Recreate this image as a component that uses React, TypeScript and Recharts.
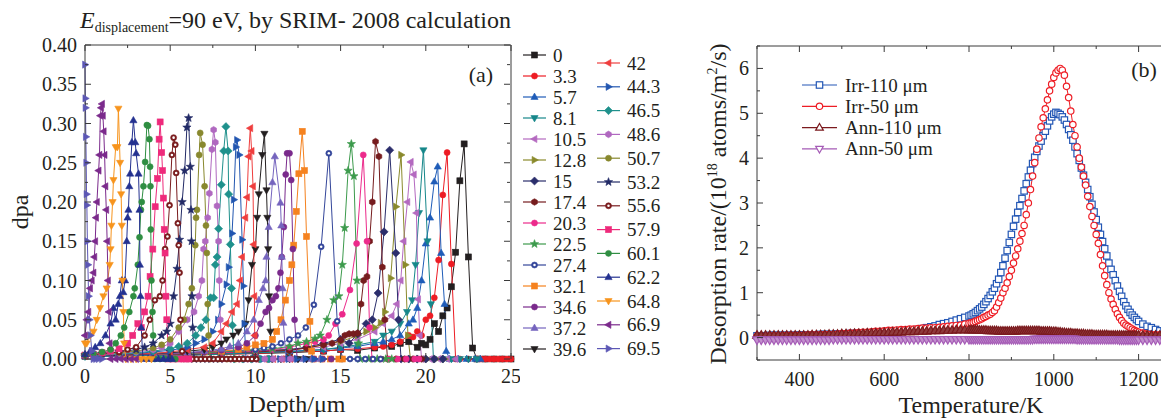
import React from 'react';
import { LineChart, Line, XAxis, YAxis, ReferenceLine } from 'recharts';

const SERIF = '"Liberation Serif", "Times New Roman", serif';
const AX = '#3a3a3a';
const TXT = '#231f20';

// ---------- panel (a): SRIM damage profiles, [depth in µm, dpa] ----------
const s0 = [[0,0.004],[2,0.004],[4,0.005],[6,0.005],[8,0.006],[10,0.007],[12,0.008],[14,0.01],[15,0.012],[16,0.011],[17,0.014],[18,0.016],[18.5,0.02],[19,0.022],[19.5,0.015],[19.75,0.02],[20,0.018],[20.25,0.025],[20.5,0.045],[20.75,0.035],[21,0.055],[21.25,0.065],[21.5,0.092],[21.75,0.136],[22,0.227],[22.25,0.274],[22.5,0.13],[22.75,0.014],[23,0],[23.5,0],[24,0],[24.5,0],[25,0]];
const s3_3 = [[0,0.003],[2,0.004],[4,0.005],[6,0.006],[8,0.006],[10,0.007],[12,0.009],[14,0.01],[15,0.012],[16,0.013],[17,0.015],[17.5,0.016],[18,0.018],[18.5,0.022],[19,0.03],[19.25,0.028],[19.5,0.035],[19.75,0.03],[20,0.05],[20.25,0.055],[20.5,0.078],[20.75,0.126],[21,0.209],[21.25,0.263],[21.5,0.121],[21.75,0],[22,0],[22.5,0],[23,0],[23.25,0],[23.5,0],[23.75,0],[24,0],[24.25,0],[24.5,0],[24.75,0],[25,0]];
const s5_7 = [[0,0.003],[2,0.004],[4,0.005],[6,0.006],[8,0.007],[10,0.008],[12,0.01],[14,0.012],[15,0.014],[16,0.016],[17,0.02],[17.5,0.022],[18,0.025],[18.5,0.03],[19,0.045],[19.25,0.05],[19.5,0.065],[19.75,0.1],[20,0.147],[20.25,0.18],[20.5,0.226],[20.7,0.245],[20.9,0.135],[21.1,0.07],[21.2,0.01],[21.4,0],[21.9,0],[22.4,0],[22.9,0],[23.2,0]];
const s8_1 = [[0,0.003],[2,0.004],[4,0.005],[6,0.005],[8,0.006],[10,0.008],[12,0.009],[14,0.012],[15,0.015],[16,0.018],[17,0.022],[17.5,0.03],[18,0.035],[18.5,0.045],[18.9,0.06],[19.2,0.075],[19.4,0.12],[19.6,0.186],[19.86,0.266],[20.1,0.15],[20.3,0.07],[20.45,0],[21,0],[21.5,0],[22,0],[22.5,0],[23,0]];
const s10_5 = [[0,0.004],[2,0.005],[4,0.006],[6,0.007],[8,0.008],[10,0.01],[12,0.012],[14,0.015],[15,0.02],[16,0.025],[17,0.035],[17.5,0.045],[18,0.055],[18.3,0.07],[18.53,0.1],[18.7,0.15],[18.92,0.2],[19.12,0.251],[19.3,0.235],[19.45,0.186],[19.55,0.076],[19.65,0.03],[19.75,0],[20.25,0],[20.75,0],[21.25,0],[21.75,0]];
const s12_8 = [[0,0.004],[2,0.005],[4,0.006],[6,0.007],[8,0.008],[10,0.01],[12,0.012],[13,0.014],[14,0.018],[15,0.022],[16,0.03],[16.5,0.035],[17,0.04],[17.35,0.046],[17.6,0.06],[17.94,0.103],[18.25,0.194],[18.55,0.26],[18.8,0.12],[18.95,0.03],[19.1,0],[19.6,0],[20.1,0],[20.6,0],[21.1,0]];
const s15 = [[0,0.004],[2,0.005],[4,0.006],[6,0.007],[8,0.008],[10,0.01],[12,0.012],[13,0.015],[14,0.02],[15,0.025],[15.5,0.02],[16,0.032],[16.5,0.045],[16.86,0.05],[17.2,0.084],[17.55,0.162],[17.88,0.266],[18.24,0.135],[18.4,0.05],[18.55,0],[19,0],[19.5,0],[20,0],[20.5,0],[21,0]];
const s17_4 = [[0,0.004],[2,0.005],[4,0.006],[6,0.006],[8,0.008],[10,0.009],[12,0.011],[13,0.014],[14,0.018],[14.5,0.02],[15,0.024],[15.25,0.03],[15.5,0.032],[15.75,0.032],[16,0.033],[16.2,0.07],[16.35,0.1],[16.55,0.105],[16.7,0.15],[16.86,0.2],[17.05,0.277],[17.25,0.258],[17.45,0.117],[17.6,0.05],[17.75,0],[18.25,0],[18.75,0],[19.25,0],[19.75,0]];
const s20_3 = [[0,0.004],[2,0.005],[4,0.006],[6,0.007],[8,0.008],[10,0.01],[11,0.012],[12,0.015],[13,0.02],[13.5,0.022],[14,0.025],[14.3,0.03],[14.7,0.045],[15.1,0.057],[15.55,0.088],[15.94,0.147],[16.33,0.26],[16.55,0.15],[16.7,0.04],[16.85,0],[17.35,0],[17.85,0],[18.35,0],[18.85,0],[19.35,0],[19.6,0]];
const s22_5 = [[0,0.004],[2,0.005],[4,0.006],[6,0.007],[8,0.009],[10,0.011],[11,0.013],[12,0.016],[12.5,0.02],[13,0.022],[13.5,0.026],[13.8,0.03],[14.2,0.05],[14.6,0.075],[14.9,0.08],[15.1,0.12],[15.24,0.167],[15.44,0.24],[15.63,0.274],[15.78,0.233],[15.96,0.1],[16.05,0.02],[16.15,0],[16.65,0],[17.15,0],[17.65,0],[18,0]];
const s27_4 = [[0,0.004],[1,0.005],[2,0.005],[3,0.006],[4,0.006],[5,0.007],[6,0.008],[7,0.009],[8,0.01],[9,0.011],[10,0.012],[10.5,0.014],[11,0.016],[11.5,0.02],[12,0.025],[12.5,0.03],[12.96,0.04],[13.43,0.069],[13.86,0.143],[14.31,0.262],[14.8,0.048],[15.1,0],[15.55,0],[16,0],[16.45,0],[16.9,0],[17.35,0]];
const s32_1 = [[0,0.004],[2,0.005],[4,0.006],[6,0.008],[7,0.009],[8,0.01],[9,0.012],[9.5,0.015],[10,0.018],[10.5,0.02],[11,0.025],[11.25,0.035],[11.5,0.05],[11.76,0.075],[12,0.1],[12.14,0.12],[12.25,0.145],[12.4,0.188],[12.55,0.236],[12.75,0.29],[12.88,0.24],[13,0.156],[13.2,0.048],[13.3,0.01],[13.4,0],[13.9,0],[14.4,0],[14.9,0],[15.1,0]];
const s34_6 = [[0,0.004],[2,0.005],[4,0.006],[6,0.008],[7,0.009],[8,0.011],[9,0.015],[9.5,0.02],[10,0.03],[10.3,0.045],[10.6,0.06],[10.8,0.065],[11,0.075],[11.2,0.08],[11.35,0.09],[11.47,0.11],[11.55,0.13],[11.67,0.168],[11.78,0.235],[11.86,0.262],[12,0.262],[12.1,0.228],[12.2,0.14],[12.3,0.05],[12.45,0],[12.95,0],[13.45,0],[13.95,0],[14.45,0]];
const s37_2 = [[0,0.004],[2,0.005],[4,0.007],[6,0.008],[7,0.01],[8,0.013],[8.5,0.016],[9,0.02],[9.5,0.035],[9.9,0.05],[10.2,0.075],[10.45,0.09],[10.6,0.1],[10.65,0.13],[10.78,0.168],[11,0.225],[11.14,0.258],[11.47,0.199],[11.52,0.17],[11.55,0.13],[11.6,0.09],[11.64,0.046],[11.8,0],[12.3,0],[12.8,0],[13.3,0],[13.8,0]];
const s39_6 = [[0,0.004],[2,0.005],[4,0.007],[5,0.008],[6,0.01],[7,0.012],[7.5,0.015],[8,0.02],[8.3,0.025],[8.7,0.03],[9,0.035],[9.43,0.045],[9.6,0.075],[9.8,0.12],[10,0.14],[10.1,0.18],[10.2,0.21],[10.4,0.26],[10.53,0.287],[10.65,0.215],[10.7,0.18],[10.75,0.14],[10.8,0.08],[10.88,0.035],[10.98,0],[11.5,0],[12,0],[12.5,0],[13,0]];
const s42 = [[0,0.004],[2,0.006],[4,0.007],[5,0.009],[6,0.012],[7,0.015],[7.5,0.02],[8,0.035],[8.3,0.045],[8.63,0.06],[8.92,0.07],[9.1,0.1],[9.22,0.13],[9.41,0.18],[9.51,0.206],[9.6,0.258],[9.7,0.294],[9.78,0.265],[9.86,0.22],[9.9,0.146],[9.94,0.08],[9.96,0.03],[10.05,0],[10.55,0],[11.05,0],[11.55,0],[12.05,0]];
const s44_3 = [[0,0.004],[2,0.006],[3,0.007],[4,0.009],[5,0.011],[6,0.015],[6.5,0.02],[7,0.025],[7.5,0.035],[7.8,0.05],[8,0.07],[8.3,0.095],[8.43,0.117],[8.63,0.16],[8.73,0.203],[8.85,0.27],[8.92,0.279],[9.05,0.26],[9.22,0.152],[9.3,0.093],[9.35,0.045],[9.45,0],[9.95,0],[10.45,0],[10.95,0],[11.45,0],[11.95,0],[12.45,0],[12.95,0],[13.45,0],[13.95,0]];
const s46_5 = [[0,0.004],[2,0.006],[3,0.008],[4,0.01],[5,0.013],[5.5,0.016],[6,0.02],[6.5,0.03],[6.8,0.04],[7.1,0.05],[7.37,0.078],[7.55,0.078],[7.65,0.12],[7.75,0.13],[7.84,0.166],[8,0.222],[8.14,0.265],[8.27,0.296],[8.4,0.265],[8.43,0.21],[8.53,0.146],[8.6,0.09],[8.65,0.043],[8.75,0],[9.25,0],[9.75,0],[10.25,0],[10.75,0]];
const s48_6 = [[0,0.005],[1,0.006],[2,0.007],[3,0.009],[4,0.012],[4.5,0.015],[5,0.02],[5.5,0.035],[6,0.05],[6.4,0.06],[6.67,0.08],[6.86,0.1],[6.96,0.14],[7.06,0.15],[7.2,0.18],[7.3,0.211],[7.45,0.267],[7.55,0.292],[7.65,0.276],[7.75,0.195],[7.84,0.15],[7.88,0.1],[7.94,0.05],[8.05,0],[8.55,0],[9.05,0],[9.55,0],[10.05,0],[10.55,0],[11.05,0],[11.55,0],[12.05,0]];
const s50_7 = [[0,0.005],[1,0.006],[2,0.008],[3,0.01],[4,0.014],[4.5,0.018],[5,0.025],[5.5,0.04],[5.8,0.05],[6.08,0.07],[6.27,0.09],[6.47,0.145],[6.52,0.18],[6.57,0.19],[6.7,0.26],[6.76,0.288],[6.9,0.273],[7.02,0.22],[7.1,0.17],[7.15,0.135],[7.2,0.07],[7.25,0.03],[7.35,0],[7.85,0],[8.35,0],[8.85,0]];
const s53_2 = [[0,0.005],[1,0.007],[2,0.009],[3,0.012],[3.5,0.015],[4,0.02],[4.5,0.03],[4.8,0.035],[5,0.045],[5.2,0.08],[5.4,0.115],[5.55,0.152],[5.7,0.2],[5.85,0.24],[5.98,0.295],[6.08,0.307],[6.18,0.245],[6.22,0.19],[6.25,0.15],[6.28,0.08],[6.32,0.04],[6.4,0],[6.9,0],[7.4,0],[7.9,0]];
const s55_6 = [[0,0.005],[1,0.007],[2,0.009],[2.5,0.012],[3,0.015],[3.5,0.03],[3.8,0.05],[4.1,0.075],[4.4,0.08],[4.55,0.1],[4.7,0.14],[4.84,0.156],[4.96,0.196],[5.1,0.26],[5.2,0.282],[5.3,0.273],[5.35,0.237],[5.45,0.173],[5.5,0.145],[5.55,0.11],[5.6,0.05],[5.7,0.01],[5.8,0],[6.05,0],[6.3,0],[6.55,0],[6.8,0],[7.05,0],[7.3,0],[7.55,0],[7.8,0],[8.05,0],[8.3,0],[8.55,0],[8.8,0],[9.05,0],[9.3,0],[9.55,0],[9.8,0],[10.05,0]];
const s57_9 = [[0,0.005],[0.5,0.006],[1,0.008],[1.5,0.01],[2,0.013],[2.5,0.02],[2.8,0.03],[3.1,0.045],[3.3,0.04],[3.5,0.06],[3.7,0.08],[3.82,0.105],[3.98,0.14],[4.12,0.194],[4.25,0.23],[4.35,0.28],[4.41,0.302],[4.5,0.263],[4.55,0.24],[4.6,0.205],[4.65,0.165],[4.7,0.135],[4.75,0.08],[4.8,0.05],[4.9,0],[5.2,0],[5.5,0],[5.8,0],[6.1,0]];
const s60_1 = [[0,0.005],[0.5,0.007],[1,0.009],[1.5,0.012],[1.8,0.02],[2.1,0.03],[2.3,0.04],[2.6,0.06],[2.84,0.08],[2.92,0.09],[3.1,0.12],[3.2,0.155],[3.28,0.19],[3.33,0.2],[3.43,0.22],[3.53,0.251],[3.63,0.298],[3.7,0.297],[3.78,0.28],[3.82,0.245],[3.84,0.22],[3.86,0.165],[3.9,0.1],[3.96,0.06],[4,0.03],[4.1,0],[4.4,0],[4.7,0],[5,0],[5.3,0]];
const s62_2 = [[0,0.006],[0.3,0.01],[0.6,0.015],[0.9,0.02],[1.2,0.03],[1.5,0.045],[1.67,0.065],[1.8,0.05],[1.95,0.07],[2.05,0.08],[2.16,0.1],[2.25,0.085],[2.35,0.1],[2.45,0.15],[2.5,0.18],[2.55,0.19],[2.6,0.22],[2.65,0.236],[2.75,0.276],[2.84,0.304],[2.95,0.276],[3,0.262],[3.14,0.236],[3.2,0.19],[3.22,0.12],[3.26,0.08],[3.3,0.04],[3.4,0],[3.7,0],[4,0],[4.3,0],[4.6,0],[4.9,0],[5.1,0]];
const s64_8 = [[0,0.02],[0.1,0.02],[0.3,0.03],[0.5,0.035],[0.69,0.05],[0.88,0.065],[1.08,0.08],[1.27,0.09],[1.45,0.12],[1.5,0.14],[1.55,0.17],[1.62,0.2],[1.67,0.228],[1.8,0.27],[1.9,0.27],[1.96,0.319],[2.06,0.25],[2.12,0.21],[2.16,0.17],[2.2,0.1],[2.25,0.06],[2.3,0.02],[2.4,0],[2.7,0],[3,0],[3.3,0],[3.6,0],[3.9,0]];
const s66_9 = [[0,0.03],[0.1,0.05],[0.2,0.06],[0.3,0.09],[0.4,0.1],[0.5,0.11],[0.55,0.13],[0.6,0.15],[0.65,0.18],[0.7,0.2],[0.8,0.24],[0.85,0.26],[0.9,0.31],[0.95,0.32],[1,0.325],[1.05,0.31],[1.1,0.29],[1.15,0.26],[1.2,0.22],[1.25,0.19],[1.3,0.15],[1.35,0.1],[1.4,0.06],[1.45,0.02],[1.5,0],[1.8,0],[2.1,0],[2.4,0],[2.7,0],[3,0]];
const s69_5 = [[0,0.375],[0.02,0.332],[0.03,0.32],[0.05,0.283],[0.07,0.25],[0.09,0.21],[0.11,0.196],[0.14,0.15],[0.17,0.12],[0.21,0.08],[0.26,0.05],[0.32,0.03],[0.4,0.01],[0.5,0],[0.65,0],[0.8,0],[1,0]];

const labelsA = ['0','3.3','5.7','8.1','10.5','12.8','15','17.4','20.3','22.5','27.4','32.1','34.6','37.2','39.6','42','44.3','46.5','48.6','50.7','53.2','55.6','57.9','60.1','62.2','64.8','66.9','69.5'];
const colorsA = ['#231f20','#ed1c24','#1f5cb8','#16878a','#b469c0','#8a8a2c','#2b2e6c','#761c1e','#ec2a8b','#3c9a4c','#34469a','#f5821f','#7a2a8c','#7564be','#231f20','#ef3e3e','#2256b0','#1f918c','#b068c0','#88882e','#222a66','#7a1c1e','#ee2a7b','#2f8e42','#243190','#f7941d','#7b2a8c','#5c57b5'];
const shapesA = ['square','circle','up','down','left','right','diamond','hexagon','circle','star','ring','square','circle','up','down','left','right','diamond','hexagon','circle','star','ring','square','circle','up','down','left','right'];
const profilesA = [s0,s3_3,s5_7,s8_1,s10_5,s12_8,s15,s17_4,s20_3,s22_5,s27_4,s32_1,s34_6,s37_2,s39_6,s42,s44_3,s46_5,s48_6,s50_7,s53_2,s55_6,s57_9,s60_1,s62_2,s64_8,s66_9,s69_5];
const xTicksA = [0,2.5,5,7.5,10,12.5,15,17.5,20,22.5,25];
const yTicksA = [0,0.025,0.05,0.075,0.1,0.125,0.15,0.175,0.2,0.225,0.25,0.275,0.3,0.325,0.35,0.375,0.4];

// ---------- panel (b): desorption spectra ----------
const tempK = [
  300,310,320,330,340,350,360,370,380,390,400,410,420,430,440,450,460,470,480,490,
  500,510,520,530,540,550,560,570,580,590,600,610,620,630,640,650,660,670,680,690,
  700,710,720,730,740,750,760,770,780,790,800,
  805,810,815,820,825,830,835,840,845,850,855,860,865,870,875,880,885,890,895,900,
  905,910,915,920,925,930,935,940,945,950,955,960,965,970,975,980,985,990,995,1000,
  1005,1010,1015,1020,1025,1030,1035,1040,1045,1050,1055,1060,1065,1070,1075,1080,1085,1090,1095,1100,
  1105,1110,1115,1120,1125,1130,1135,1140,1145,1150,1155,1160,1165,1170,1175,1180,1185,1190,1195,1200,
  1210,1220,1230,1240,1250,1260,
];
const irr110 = [
  0.04,0.04,0.04,0.05,0.05,0.05,0.05,0.05,0.05,0.05,0.06,0.06,0.06,0.06,0.06,0.07,0.07,0.07,0.07,0.08,
  0.08,0.08,0.09,0.09,0.09,0.1,0.1,0.1,0.11,0.11,0.12,0.12,0.13,0.13,0.14,0.15,0.16,0.17,0.18,0.2,
  0.22,0.24,0.26,0.29,0.31,0.33,0.36,0.39,0.42,0.45,0.48,
  0.5,0.53,0.56,0.6,0.64,0.68,0.74,0.8,0.87,0.94,1.02,1.1,1.2,1.3,1.45,1.6,1.77,1.94,2.12,2.3,
  2.48,2.64,2.79,2.94,3.1,3.27,3.43,3.58,3.73,3.88,4.02,4.15,4.27,4.38,4.5,4.6,4.72,4.83,4.92,4.98,
  5.02,5.0,4.97,4.92,4.85,4.75,4.64,4.52,4.4,4.25,4.1,3.95,3.78,3.62,3.46,3.3,3.14,2.97,2.8,2.63,
  2.46,2.3,2.14,1.98,1.82,1.66,1.52,1.4,1.27,1.15,1.03,0.92,0.8,0.71,0.63,0.56,0.5,0.45,0.4,0.36,
  0.3,0.25,0.22,0.18,0.15,0.13,
];
const irr50 = [
  0.03,0.03,0.03,0.04,0.04,0.04,0.04,0.05,0.05,0.05,0.05,0.05,0.06,0.06,0.06,0.06,0.07,0.07,0.07,0.08,
  0.09,0.09,0.1,0.1,0.11,0.12,0.12,0.13,0.14,0.14,0.15,0.16,0.16,0.17,0.18,0.18,0.19,0.19,0.2,0.21,
  0.21,0.22,0.22,0.23,0.24,0.25,0.26,0.27,0.28,0.3,0.32,
  0.33,0.34,0.36,0.38,0.4,0.42,0.45,0.47,0.5,0.52,0.56,0.6,0.68,0.78,0.88,1.0,1.1,1.22,1.36,1.5,
  1.66,1.82,1.98,2.15,2.32,2.5,2.74,3.0,3.3,3.6,3.9,4.2,4.45,4.7,4.9,5.1,5.3,5.5,5.65,5.8,
  5.9,5.96,6.0,5.96,5.85,5.6,5.35,5.05,4.75,4.5,4.25,4.0,3.8,3.6,3.4,3.15,2.92,2.7,2.5,2.3,
  2.1,1.85,1.6,1.38,1.18,1.0,0.86,0.74,0.63,0.53,0.45,0.38,0.32,0.28,0.25,0.22,0.19,0.16,0.14,0.12,
  0.1,0.08,0.07,0.06,0.06,0.05,
];
const ann110 = [
  0.05,0.05,0.05,0.05,0.05,0.05,0.05,0.05,0.05,0.05,0.05,0.05,0.05,0.06,0.06,0.06,0.06,0.07,0.07,0.07,
  0.08,0.08,0.08,0.09,0.09,0.09,0.1,0.1,0.1,0.11,0.11,0.11,0.12,0.12,0.12,0.13,0.13,0.13,0.14,0.14,
  0.14,0.15,0.15,0.15,0.16,0.16,0.16,0.17,0.17,0.17,0.17,
  0.17,0.17,0.17,0.17,0.16,0.16,0.16,0.16,0.15,0.15,0.15,0.15,0.15,0.14,0.14,0.14,0.14,0.14,0.14,0.14,
  0.14,0.14,0.15,0.15,0.15,0.15,0.15,0.15,0.15,0.15,0.15,0.15,0.15,0.14,0.14,0.14,0.14,0.14,0.13,0.13,
  0.13,0.12,0.12,0.11,0.11,0.1,0.1,0.1,0.09,0.09,0.09,0.08,0.08,0.08,0.07,0.07,0.07,0.07,0.06,0.06,
  0.06,0.06,0.06,0.06,0.06,0.05,0.05,0.05,0.05,0.05,0.05,0.05,0.05,0.05,0.05,0.05,0.05,0.05,0.05,0.05,
  0.05,0.05,0.05,0.05,0.05,0.05,
];
const ann50 = [
  -0.05,-0.05,-0.05,-0.05,-0.05,-0.05,-0.05,-0.05,-0.05,-0.05,-0.05,-0.05,-0.05,-0.05,-0.05,-0.05,-0.05,-0.05,-0.04,-0.04,
  -0.04,-0.04,-0.04,-0.04,-0.04,-0.04,-0.04,-0.04,-0.04,-0.04,-0.04,-0.04,-0.04,-0.04,-0.04,-0.04,-0.04,-0.04,-0.04,-0.04,
  -0.04,-0.04,-0.04,-0.04,-0.04,-0.04,-0.04,-0.04,-0.04,-0.04,-0.04,
  -0.04,-0.04,-0.04,-0.04,-0.04,-0.04,-0.04,-0.04,-0.04,-0.04,-0.04,-0.04,-0.04,-0.04,-0.04,-0.04,-0.04,-0.04,-0.04,-0.04,
  -0.04,-0.04,-0.04,-0.04,-0.04,-0.04,-0.04,-0.04,-0.04,-0.04,-0.03,-0.03,-0.03,-0.03,-0.03,-0.03,-0.03,-0.03,-0.03,-0.03,
  -0.03,-0.03,-0.03,-0.03,-0.03,-0.03,-0.03,-0.03,-0.03,-0.03,-0.04,-0.04,-0.04,-0.04,-0.04,-0.04,-0.04,-0.04,-0.04,-0.04,
  -0.04,-0.04,-0.04,-0.04,-0.04,-0.04,-0.04,-0.04,-0.04,-0.04,-0.05,-0.05,-0.05,-0.05,-0.05,-0.05,-0.05,-0.05,-0.05,-0.05,
  -0.05,-0.05,-0.05,-0.05,-0.05,-0.05,
];
const keysB = ['irr110','irr50','ann110','ann50'];
const namesB = ['Irr-110 μm','Irr-50 μm','Ann-110 μm','Ann-50 μm'];
const colorsB = ['#2457b5','#ee1d25','#7b1a1e','#a55bb6'];
const fillsB = ['#fff','#fff','#8e3a3c','#c28fcd'];
const shapesB = ['square','circle','up','down'];
const xTicksB = [300,400,500,600,700,800,900,1000,1100,1200];
const yTicksB = [-0.5,0,0.5,1,1.5,2,2.5,3,3.5,4,4.5,5,5.5,6,6.5];

const rowsA = profilesA.map((pts) => pts.map(([x, y]) => ({ x, y })));
const rowsB = tempK.map((t, i) => ({ t, irr110: irr110[i], irr50: irr50[i], ann110: ann110[i], ann50: ann50[i] }));

// plot frames (pixel layout)
const A = { w: 520, h: 419, left: 85, right: 510, top: 45, bottom: 359 };
const B = { x0: 690, w: 500, h: 419, left: 67, right: 490, top: 46, bottom: 360 };

const pts = (cx: number, cy: number, list: number[][]) => list.map(([a, b]) => `${cx + a},${cy + b}`).join(' ');

function Mark({ cx, cy, shape, color, r, fill }: any) {
  if (cx == null || cy == null || !isFinite(cx) || !isFinite(cy)) return null;
  const hollow = fill != null;
  const p = { fill: hollow ? fill : color, stroke: color, strokeWidth: hollow ? 1.2 : 0.6 };
  switch (shape) {
    case 'square':
      return <rect x={cx - r} y={cy - r} width={2 * r} height={2 * r} {...p} />;
    case 'circle':
      return <circle cx={cx} cy={cy} r={r} {...p} />;
    case 'ring':
      return (
        <g>
          <circle cx={cx} cy={cy} r={r} {...p} />
          <circle cx={cx} cy={cy} r={r * 0.42} fill="#fff" />
        </g>
      );
    case 'up':
      return <polygon points={pts(cx, cy, [[0, -1.3 * r], [1.2 * r, 0.8 * r], [-1.2 * r, 0.8 * r]])} {...p} />;
    case 'down':
      return <polygon points={pts(cx, cy, [[0, 1.3 * r], [1.2 * r, -0.8 * r], [-1.2 * r, -0.8 * r]])} {...p} />;
    case 'left':
      return <polygon points={pts(cx, cy, [[-1.3 * r, 0], [0.8 * r, -1.2 * r], [0.8 * r, 1.2 * r]])} {...p} />;
    case 'right':
      return <polygon points={pts(cx, cy, [[1.3 * r, 0], [-0.8 * r, -1.2 * r], [-0.8 * r, 1.2 * r]])} {...p} />;
    case 'diamond':
      return <polygon points={pts(cx, cy, [[0, -1.35 * r], [1.35 * r, 0], [0, 1.35 * r], [-1.35 * r, 0]])} {...p} />;
    case 'hexagon': {
      const h = [0, 1, 2, 3, 4, 5].map((k) => [1.1 * r * Math.cos((Math.PI / 3) * k + Math.PI / 6), 1.1 * r * Math.sin((Math.PI / 3) * k + Math.PI / 6)]);
      return <polygon points={pts(cx, cy, h)} {...p} />;
    }
    case 'star': {
      const s = [0, 1, 2, 3, 4, 5, 6, 7, 8, 9].map((k) => {
        const rr = k % 2 === 0 ? 1.45 * r : 0.6 * r;
        const a = -Math.PI / 2 + (Math.PI / 5) * k;
        return [rr * Math.cos(a), rr * Math.sin(a)];
      });
      return <polygon points={pts(cx, cy, s)} {...p} />;
    }
    default:
      return <circle cx={cx} cy={cy} r={r} {...p} />;
  }
}

// inward ticks on all four sides, labels outside
function xTick(top: number, isMajor: (v: number) => boolean, dy: number) {
  return (p: any) => {
    const v = p.payload.value;
    const m = isMajor(v);
    const len = m ? 6 : 3;
    return (
      <g>
        <line x1={p.x} x2={p.x} y1={p.y} y2={p.y - len} stroke={AX} />
        <line x1={p.x} x2={p.x} y1={top} y2={top + len} stroke={AX} />
        {m ? (
          <text x={p.x} y={p.y + dy} textAnchor="middle" fontFamily={SERIF} fontSize={20} fill={TXT}>
            {String(v)}
          </text>
        ) : null}
      </g>
    );
  };
}

function yTick(right: number, isMajor: (v: number) => boolean, fmt: (v: number) => string) {
  return (p: any) => {
    const v = p.payload.value;
    const m = isMajor(v);
    const len = m ? 6 : 3;
    return (
      <g>
        <line x1={p.x} x2={p.x + len} y1={p.y} y2={p.y} stroke={AX} />
        <line x1={right} x2={right - len} y1={p.y} y2={p.y} stroke={AX} />
        {m ? (
          <text x={p.x - 8} y={p.y + 7} textAnchor="end" fontFamily={SERIF} fontSize={20} fill={TXT}>
            {fmt(v)}
          </text>
        ) : null}
      </g>
    );
  };
}

function PanelA() {
  return (
    <LineChart width={A.w} height={A.h} margin={{ top: A.top, right: A.w - A.right - 1, bottom: A.h - A.bottom - 40, left: 0 }}>
      <XAxis
        type="number"
        dataKey="x"
        domain={[0, 25]}
        ticks={xTicksA}
        interval={0}
        height={40}
        tickSize={0}
        tickMargin={0}
        tickLine={false}
        axisLine={{ stroke: AX }}
        tick={xTick(A.top, (v) => v % 5 === 0, 24)}
      />
      <YAxis
        type="number"
        domain={[0, 0.4]}
        ticks={yTicksA}
        interval={0}
        width={A.left}
        tickSize={0}
        tickMargin={0}
        tickLine={false}
        axisLine={{ stroke: AX }}
        tick={yTick(A.right, (v) => Math.round(v * 1000) % 50 === 0, (v) => v.toFixed(2))}
      />
      <ReferenceLine y={0.4} stroke={AX} />
      <ReferenceLine x={25} stroke={AX} />
      {rowsA.map((data, i) => (
        <Line
          key={labelsA[i]}
          data={data}
          dataKey="y"
          type="linear"
          stroke={colorsA[i]}
          strokeWidth={1}
          isAnimationActive={false}
          activeDot={false}
          dot={(p: any) => <Mark key={`a${i}-${p.index}`} cx={p.cx} cy={p.cy} shape={shapesA[i]} color={colorsA[i]} r={3} />}
        />
      ))}
    </LineChart>
  );
}

function PanelB() {
  return (
    <LineChart
      width={B.w}
      height={B.h}
      data={rowsB}
      margin={{ top: B.top, right: B.w - B.right - 1, bottom: B.h - B.bottom - 40, left: 0 }}
    >
      <XAxis
        type="number"
        dataKey="t"
        domain={[300, 1300]}
        ticks={xTicksB}
        interval={0}
        height={40}
        tickSize={0}
        tickMargin={0}
        tickLine={false}
        axisLine={{ stroke: AX }}
        tick={xTick(B.top, (v) => v % 200 === 0, 26)}
      />
      <YAxis
        type="number"
        domain={[-0.5, 6.5]}
        ticks={yTicksB}
        interval={0}
        width={B.left}
        tickSize={0}
        tickMargin={0}
        tickLine={false}
        axisLine={{ stroke: AX }}
        tick={yTick(B.right, (v) => Number.isInteger(v) && v >= 0, (v) => String(v))}
      />
      <ReferenceLine y={6.5} stroke={AX} />
      {keysB.map((k, i) => (
        <Line
          key={k}
          dataKey={k}
          type="linear"
          stroke={colorsB[i]}
          strokeWidth={1}
          isAnimationActive={false}
          activeDot={false}
          dot={(p: any) => (
            <Mark key={`b${i}-${p.index}`} cx={p.cx} cy={p.cy} shape={shapesB[i]} color={colorsB[i]} r={i < 2 ? 3.2 : 3.6} fill={fillsB[i]} />
          )}
        />
      ))}
    </LineChart>
  );
}

function Overlay() {
  return (
    <svg width={1161} height={419} style={{ position: 'absolute', left: 0, top: 0, pointerEvents: 'none' }}>
      <text x={80} y={28} fontFamily={SERIF} fontSize={24} fill={TXT}>
        <tspan fontStyle="italic">E</tspan>
        <tspan fontSize={14} dy={4}>displacement</tspan>
        <tspan dy={-4}>=90 eV, by SRIM- 2008 calculation</tspan>
      </text>
      <text x={481} y={82} textAnchor="middle" fontFamily={SERIF} fontSize={22} fill={TXT}>(a)</text>
      <text x={1144} y={77} textAnchor="middle" fontFamily={SERIF} fontSize={22} fill={TXT}>(b)</text>
      <text x={28} y={212} transform="rotate(-90 28 212)" textAnchor="middle" fontFamily={SERIF} fontSize={24} fill={TXT}>dpa</text>
      <text x={297} y={412} textAnchor="middle" fontFamily={SERIF} fontSize={24} fill={TXT}>Depth/μm</text>
      <text x={971} y={413} textAnchor="middle" fontFamily={SERIF} fontSize={24} fill={TXT}>Temperature/K</text>
      <text x={726} y={204} transform="rotate(-90 726 204)" textAnchor="middle" fontFamily={SERIF} fontSize={24} fill={TXT}>
        Desorption rate/(10<tspan fontSize={14} dy={-9}>18</tspan>
        <tspan dy={9}> atoms/m</tspan>
        <tspan fontSize={14} dy={-9}>2</tspan>
        <tspan dy={9}>/s)</tspan>
      </text>
      {labelsA.map((lab, i) => {
        const col = i < 15 ? 0 : 1;
        const row = col === 0 ? i : i - 15;
        const x0 = col === 0 ? 523 : 597;
        const y = col === 0 ? 55 + row * 21 : 63 + row * 23.8;
        return (
          <g key={lab}>
            <line x1={x0} x2={x0 + 23} y1={y} y2={y} stroke={colorsA[i]} strokeWidth={1.2} />
            <Mark cx={x0 + 11.5} cy={y} shape={shapesA[i]} color={colorsA[i]} r={3} />
            <text x={x0 + 30} y={y + 6.5} fontFamily={SERIF} fontSize={19} fill={TXT}>{lab}</text>
          </g>
        );
      })}
      {namesB.map((n, i) => {
        const y = 85 + i * 21.3;
        return (
          <g key={n}>
            <line x1={802} x2={837} y1={y} y2={y} stroke={colorsB[i]} strokeWidth={1.2} />
            <Mark cx={819.5} cy={y} shape={shapesB[i]} color={colorsB[i]} r={3.2} fill="#fff" />
            <text x={845} y={y + 6.5} fontFamily={SERIF} fontSize={19} fill={TXT}>{n}</text>
          </g>
        );
      })}
    </svg>
  );
}

export default function App() {
  return (
    <div style={{ position: 'absolute', left: 0, top: 0, width: 1161, height: 419, overflow: 'hidden', background: '#fff' }}>
      <div style={{ position: 'absolute', left: 0, top: 0 }}>
        <PanelA />
      </div>
      <div style={{ position: 'absolute', left: B.x0, top: 0 }}>
        <PanelB />
      </div>
      <Overlay />
    </div>
  );
}
